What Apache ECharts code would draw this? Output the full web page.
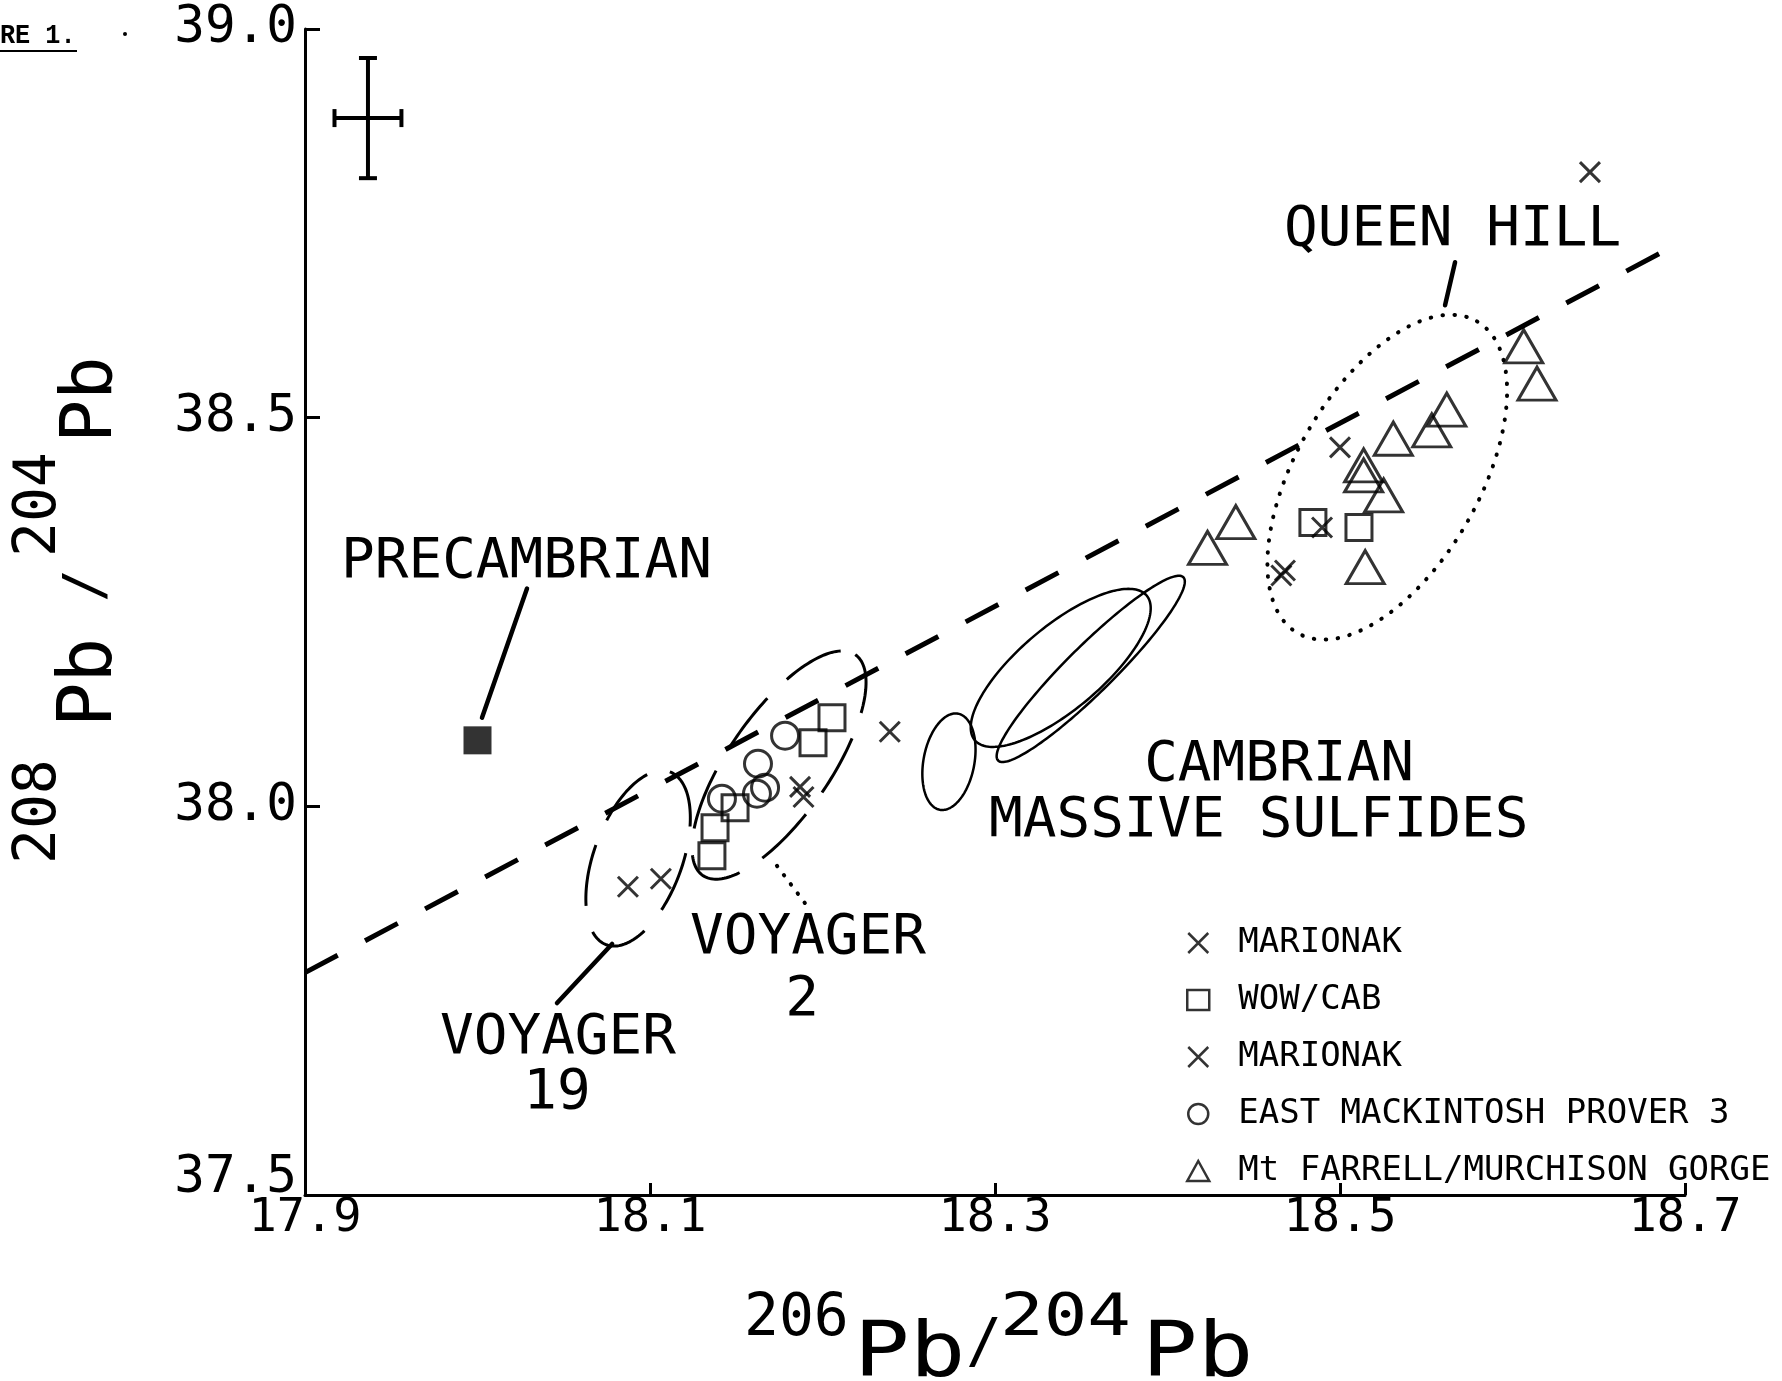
<!DOCTYPE html>
<html><head><meta charset="utf-8">
<script src="https://cdn.jsdelivr.net/npm/echarts@6/dist/echarts.min.js"></script>
<style>html,body{margin:0;padding:0;background:#fff}#c{width:1782px;height:1381px}</style>
</head><body><div id="c"></div>
<script>
const FONT = 'DejaVu Sans Mono';

// ---- axes ----
const xMin = 17.9, xMax = 18.7, xStep = 0.2;
const yMin = 37.5, yMax = 39.0, yStep = 0.5;

// ---- series: MARIONAK (x) group A ----
const crossAX = [18.0872, 18.1063, 18.1870, 18.1890, 18.2390];
const crossAY = [37.8965, 37.9068, 38.0250, 38.0120, 38.0960];
// ---- WOW/CAB (squares) ----
const squareX = [18.2055, 18.1945, 18.1493, 18.1377, 18.1359, 18.4843, 18.5110];
const squareY = [38.1141, 38.0819, 37.9982, 37.9724, 37.9364, 38.3652, 38.3587];
// ---- MARIONAK (x) group B ----
const crossBX = [18.5000, 18.4896, 18.4681, 18.4660, 18.6449];
const crossBY = [38.4618, 38.3587, 38.3034, 38.2970, 38.8159];
// ---- EAST MACKINTOSH PROVER 3 (circles) ----
const circleX = [18.1783, 18.1626, 18.1667, 18.1620, 18.1417];
const circleY = [38.0909, 38.0548, 38.0240, 38.0162, 38.0098];
// ---- Mt FARRELL/MURCHISON GORGE (triangles) ----
const triX = [18.4396, 18.4232, 18.5309, 18.5619, 18.5532, 18.5137, 18.5137, 18.5253, 18.5146, 18.6065, 18.6142];
const triY = [38.3656, 38.3326, 38.4729, 38.5103, 38.4837, 38.4386, 38.4257, 38.4000, 38.3076, 38.5918, 38.5438];
// ---- PRECAMBRIAN ----
const preX = [18.0000];
const preY = [38.0849];

// ---- dashed reference line ----
const refLineX = [17.9, 18.6864];
const refLineY = [37.7861, 38.7125];

// ---- ellipses: centre, major-axis tip, minor/major ratio, kind (0 dash,1 solid,2 dot) ----
const ellCX = [18.0931, 18.1748, 18.2733, 18.3381, 18.3555, 18.5274];
const ellCY = [37.9331, 38.0531, 38.0574, 38.1781, 38.1768, 38.4234];
const ellTX = [18.1115, 18.2190, 18.2786, 18.3879, 18.4092, 18.5794];
const ellTY = [38.0443, 38.1951, 38.1192, 38.2712, 38.2947, 38.6239];
const ellRatio = [0.48, 0.38, 0.52, 0.37, 0.18, 0.51];
const ellKind = [0, 0, 1, 1, 1, 2];

// ---- leader lines (kind 1 solid, 2 dotted) ----
const leadX1 = [18.0287, 18.5667, 18.0461, 18.1736];
const leadY1 = [38.2802, 38.7000, 37.7470, 37.9235];
const leadX2 = [18.0026, 18.5609, 18.0780, 18.1910];
const leadY2 = [38.1140, 38.6446, 37.8230, 37.8720];
const leadKind = [1, 1, 1, 2];

// ---- error cross ----
const errX = [17.9365], errY = [38.8854], errDX = [0.0194], errDY = [0.0773];

const zip = (a, b) => a.map((v, i) => [v, b[i]]);
const CROSS = 'path://M0,0L20,20M20,0L0,20';
const hollow = { color: 'transparent', borderColor: '#000', borderWidth: 3 };

const ellStyles = [
  { lineWidth: 3, lineDash: [62, 27] },
  { lineWidth: 2.5, lineDash: null },
  { lineWidth: 4, lineDash: [0.5, 11.5], lineCap: 'round' }
];

function renderEllipse(params, api) {
  const c = api.coord([api.value(0), api.value(1)]);
  const t = api.coord([api.value(2), api.value(3)]);
  const r = api.value(4);
  const k = api.value(5);
  const dx = t[0] - c[0], dy = t[1] - c[1];
  const a = Math.hypot(dx, dy), ux = dx / a, uy = dy / a, b = a * r;
  const pts = [];
  const N = 180;
  for (let i = 0; i < N; i++) {
    const th = 2 * Math.PI * i / N;
    pts.push([c[0] + a * Math.cos(th) * ux - b * Math.sin(th) * uy,
              c[1] + a * Math.cos(th) * uy + b * Math.sin(th) * ux]);
  }
  const s = ellStyles[k];
  return { type: 'polygon', shape: { points: pts },
    style: { fill: 'none', stroke: '#000', lineWidth: s.lineWidth, lineDash: s.lineDash, lineCap: s.lineCap || 'butt' } };
}

function renderLeader(params, api) {
  const p1 = api.coord([api.value(0), api.value(1)]);
  const p2 = api.coord([api.value(2), api.value(3)]);
  const dotted = api.value(4) === 2;
  return { type: 'line', shape: { x1: p1[0], y1: p1[1], x2: p2[0], y2: p2[1] },
    style: { stroke: '#000', lineWidth: dotted ? 4 : 4.5, lineDash: dotted ? [0.5, 11] : null, lineCap: 'round' } };
}

function renderErr(params, api) {
  const cx = api.value(0), cy = api.value(1), ex = api.value(2), ey = api.value(3);
  const l = api.coord([cx - ex, cy]), r = api.coord([cx + ex, cy]);
  const t = api.coord([cx, cy + ey]), b = api.coord([cx, cy - ey]);
  const cap = 9, st = { stroke: '#000', lineWidth: 4 };
  const ln = (x1, y1, x2, y2) => ({ type: 'line', shape: { x1, y1, x2, y2 }, style: st });
  return { type: 'group', children: [
    ln(l[0], l[1], r[0], r[1]), ln(t[0], t[1], b[0], b[1]),
    ln(l[0], l[1] - cap, l[0], l[1] + cap), ln(r[0], r[1] - cap, r[0], r[1] + cap),
    ln(t[0] - cap, t[1], t[0] + cap, t[1]), ln(b[0] - cap, b[1], b[0] + cap, b[1])
  ] };
}

function txt(x, y, s, size, align, family, weight, sx) {
  return { type: 'text', x: x, y: y, scaleX: sx || 1, silent: true,
    style: { text: s, fill: '#000', fontSize: size, fontFamily: family || FONT, fontWeight: weight || 'normal',
      textAlign: align || 'left', align: align || 'left', textVerticalAlign: 'middle', verticalAlign: 'middle' } };
}

const chart = echarts.init(document.getElementById('c'), null, { renderer: 'canvas' });
chart.setOption({
  backgroundColor: '#fff',
  animation: false,
  grid: { left: 305, right: 97, top: 29, bottom: 186, containLabel: false },
  xAxis: {
    type: 'value', min: xMin, max: xMax, interval: xStep,
    axisLine: { lineStyle: { color: '#000', width: 3 } },
    axisTick: { inside: true, length: 12, lineStyle: { color: '#000', width: 3 } },
    splitLine: { show: false },
    axisLabel: { color: '#000', fontSize: 47, fontFamily: FONT, margin: 0, formatter: v => v.toFixed(1) }
  },
  yAxis: {
    type: 'value', min: yMin, max: yMax, interval: yStep,
    axisLine: { lineStyle: { color: '#000', width: 3 } },
    axisTick: { inside: true, length: 15, lineStyle: { color: '#000', width: 3 } },
    splitLine: { show: false },
    axisLabel: { color: '#000', fontSize: 51, fontFamily: FONT, margin: 8,
      formatter: v => (Math.abs(v - yMin) < 1e-9 ? '{lo|' + v.toFixed(1) + '}' : v.toFixed(1)),
      rich: { lo: { fontSize: 51, fontFamily: FONT, color: '#000', padding: [0, 0, 32, 0] } } }
  },
  legend: {
    orient: 'vertical', left: 1181, top: 921, itemWidth: 22, itemHeight: 20, itemGap: 23,
    selectedMode: false,
    textStyle: { fontFamily: FONT, fontSize: 34, color: '#000', lineHeight: 34, padding: [0, 0, 0, 24] },
    itemStyle: { color: 'transparent', borderColor: '#000', borderWidth: 2.5 },
    data: [
      { name: 'MARIONAK', icon: CROSS },
      { name: 'WOW/CAB', icon: 'rect' },
      { name: 'MARIONAK ', icon: CROSS },
      { name: 'EAST MACKINTOSH PROVER 3', icon: 'circle' },
      { name: 'Mt FARRELL/MURCHISON GORGE', icon: 'triangle' }
    ]
  },
  graphic: [
    txt(0, 36, 'RE 1.', 28, 'left', 'Liberation Mono', 'bold', 0.9),
    { type: 'line', shape: { x1: 0, y1: 51, x2: 77, y2: 51 }, style: { stroke: '#000', lineWidth: 2 }, silent: true },
    { type: 'circle', shape: { cx: 125, cy: 34, r: 2 }, style: { fill: '#000' }, silent: true },
    txt(341, 562, 'PRECAMBRIAN', 56),
    txt(1284, 230, 'QUEEN HILL', 56),
    txt(1279, 765, 'CAMBRIAN', 56, 'center'),
    txt(989, 821, 'MASSIVE SULFIDES', 56),
    txt(690, 938, 'VOYAGER', 56),
    txt(802, 1000, '2', 56, 'center'),
    txt(440, 1038, 'VOYAGER', 56),
    txt(557, 1093, '19', 56, 'center'),
    // x axis title
    txt(744, 1320, '206', 58),
    txt(854, 1356, 'Pb', 77, 'left', FONT, 'normal', 1.2),
    txt(966, 1345, '/', 60),
    txt(1000, 1320, '204', 58, 'left', FONT, 'normal', 1.25),
    txt(1142, 1356, 'Pb', 77, 'left', FONT, 'normal', 1.2),
    // y axis title (rotated)
    { type: 'group', x: 0, y: 864, rotation: Math.PI / 2, silent: true, children: [
      txt(0, 40, '208', 58),
      txt(137, 92, 'Pb', 74),
      txt(262, 88, '/', 55),
      txt(307, 40, '204', 58),
      txt(421, 92, 'Pb', 72)
    ] }
  ],
  series: [
    { type: 'line', silent: true, data: zip(refLineX, refLineY), symbol: 'none',
      lineStyle: { color: '#000', width: 5, type: [37, 31], cap: 'butt' }, z: 1 },
    { type: 'custom', silent: true, renderItem: renderEllipse, z: 1,
      data: ellCX.map((v, i) => [v, ellCY[i], ellTX[i], ellTY[i], ellRatio[i], ellKind[i]]) },
    { type: 'custom', silent: true, renderItem: renderLeader, z: 1,
      data: leadX1.map((v, i) => [v, leadY1[i], leadX2[i], leadY2[i], leadKind[i]]) },
    { type: 'custom', silent: true, renderItem: renderErr, z: 1,
      data: errX.map((v, i) => [v, errY[i], errDX[i], errDY[i]]) },
    { name: 'MARIONAK', type: 'scatter', silent: true, symbol: CROSS, symbolSize: 20, data: zip(crossAX, crossAY), itemStyle: hollow, z: 3 },
    { name: 'WOW/CAB', type: 'scatter', silent: true, symbol: 'rect', symbolSize: 26, data: zip(squareX, squareY), itemStyle: hollow, z: 3 },
    { name: 'MARIONAK ', type: 'scatter', silent: true, symbol: CROSS, symbolSize: 20, data: zip(crossBX, crossBY), itemStyle: hollow, z: 3 },
    { name: 'EAST MACKINTOSH PROVER 3', type: 'scatter', silent: true, symbol: 'circle', symbolSize: 27, data: zip(circleX, circleY), itemStyle: hollow, z: 3 },
    { name: 'Mt FARRELL/MURCHISON GORGE', type: 'scatter', silent: true, symbol: 'triangle', symbolSize: [38, 33], data: zip(triX, triY), itemStyle: hollow, z: 3 },
    { name: 'PRECAMBRIAN', type: 'scatter', silent: true, symbol: 'rect', symbolSize: 28, data: zip(preX, preY), itemStyle: { color: '#000' }, z: 3 }
  ]
});
</script>
</body></html>
